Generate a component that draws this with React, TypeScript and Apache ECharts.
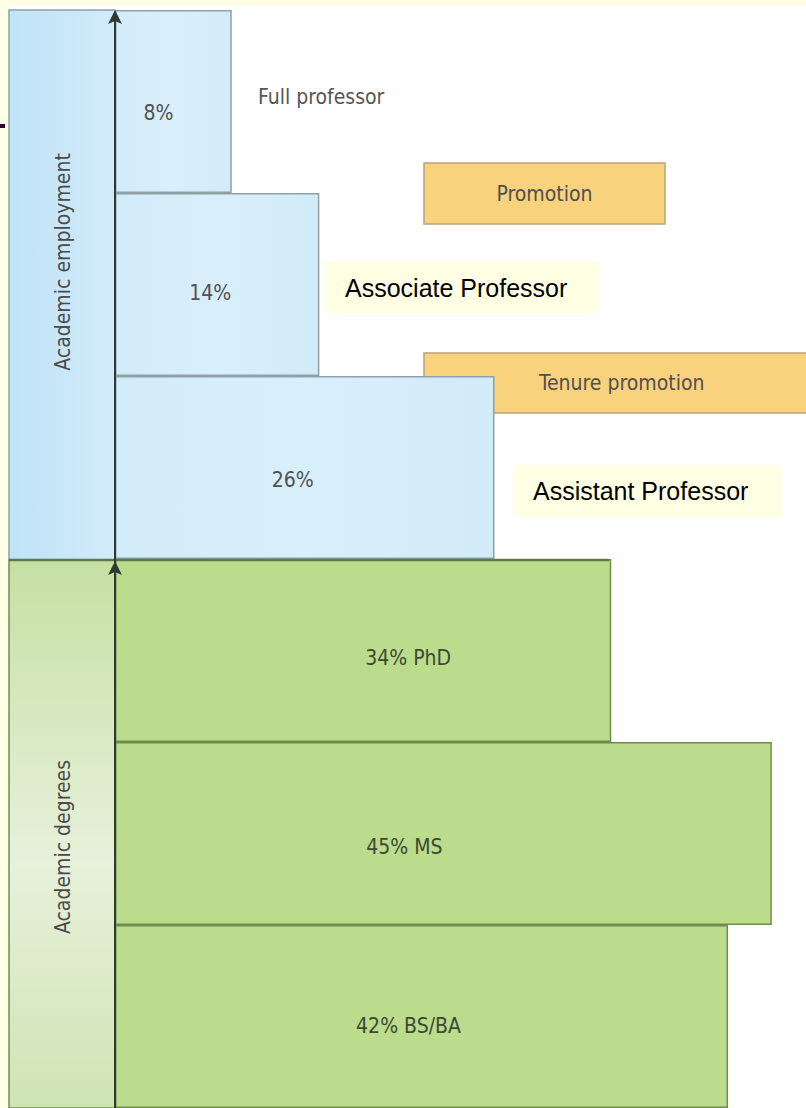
import React, { useEffect, useRef } from "react";
import * as echarts from "echarts";

// ---- data ----
const categories = [
  "Full professor",
  "Associate Professor",
  "Assistant Professor",
  "PhD",
  "MS",
  "BS/BA",
];
const shares = [8, 14, 26, 34, 45, 42];
const groups = ["employment", "employment", "employment", "degree", "degree", "degree"];
const groupTitles = ["Academic employment", "Academic degrees"];
const stepLabels = ["Promotion", "Tenure promotion"];
const rankCallouts = ["Full professor", "Associate Professor", "Assistant Professor"];

// ---- layout / style ----
const NARROW = '"Liberation Sans Narrow", "Arial Narrow", "DejaVu Sans Condensed", sans-serif';
const ARIAL = '"Liberation Sans", Arial, Helvetica, sans-serif';
const NARROW_SIZE = 21;
const labelNudge: [number, number][] = [
  [-15, 11],
  [-7, 8],
  [-12, 12],
  [45, 7],
  [-39, 13],
  [-13, 9],
];

const blueFill = new echarts.graphic.LinearGradient(0, 0, 1, 0, [
  { offset: 0, color: "#D3ECF9" },
  { offset: 0.5, color: "#D9EFFB" },
  { offset: 1, color: "#D2EBF9" },
]);

export default function App() {
  const ref = useRef<HTMLDivElement>(null);

  useEffect(() => {
    if (!ref.current) return;
    const chart = echarts.init(ref.current, undefined, { renderer: "svg" });

    const data = shares.map((v, i) => {
      const emp = groups[i] === "employment";
      return {
        value: v,
        itemStyle: emp
          ? { color: blueFill, borderColor: "#8EA1A8", borderWidth: 1.5 }
          : { color: "#BCDC8D", borderColor: "#6F8D4F", borderWidth: 1.5 },
        label: {
          offset: labelNudge[i],
          color: emp ? "#505050" : "#3B4A32",
        },
      };
    });

    const boxText = (
      x: number,
      y: number,
      w: number,
      h: number,
      text: string,
      fill: string,
      stroke: string | null,
      font: string,
      size: number,
      color: string,
      align: "center" | "left",
      padX: number
    ) => ({
      type: "group",
      z: 20,
      children: [
        {
          type: "rect",
          shape: { x, y, width: w, height: h },
          style: stroke ? { fill, stroke, lineWidth: 1.5 } : { fill },
        },
        {
          type: "text",
          x: align === "center" ? x + w / 2 : x + padX,
          y: y + h / 2,
          style: {
            text,
            fill: color,
            font: `${size}px ${font}`,
            align,
            verticalAlign: "middle",
          },
        },
      ],
    });

    const option: any = {
      animation: false,
      backgroundColor: "#FFFFE6",
      grid: { left: 115, right: 5, top: 10, bottom: 0, containLabel: false },
      xAxis: { type: "value", min: 0, max: 47, show: false },
      yAxis: {
        type: "category",
        data: categories,
        inverse: true,
        axisLine: { show: false },
        axisTick: { show: false },
        axisLabel: { show: false },
        splitLine: { show: false },
      },
      series: [
        {
          type: "bar",
          barWidth: "100%",
          barCategoryGap: "0%",
          data,
          z: 2,
          label: {
            show: true,
            position: "inside",
            fontFamily: NARROW,
            fontSize: NARROW_SIZE,
            formatter: (p: any) =>
              groups[p.dataIndex] === "degree"
                ? `${p.value}% ${categories[p.dataIndex]}`
                : `${p.value}%`,
          },
        },
      ],
      graphic: [
        // white canvas
        {
          type: "rect",
          z: -5,
          shape: { x: 8, y: 5, width: 798, height: 1103 },
          style: { fill: "#FFFFFF" },
        },
        // small dark dash on the far left
        {
          type: "rect",
          z: -4,
          shape: { x: 0, y: 124, width: 5, height: 4 },
          style: { fill: "#2D0030" },
        },
        // group label columns
        {
          type: "rect",
          z: -3,
          shape: { x: 9, y: 10, width: 106, height: 550 },
          style: {
            fill: new echarts.graphic.LinearGradient(0, 0, 1, 0, [
              { offset: 0, color: "#BFE3F7" },
              { offset: 1, color: "#D2EBF9" },
            ]),
            stroke: "#8EA1A8",
            lineWidth: 1.5,
          },
        },
        {
          type: "rect",
          z: -3,
          shape: { x: 9, y: 560, width: 106, height: 548 },
          style: {
            fill: new echarts.graphic.LinearGradient(0, 0, 0, 1, [
              { offset: 0, color: "#C6E0A3" },
              { offset: 0.55, color: "#E7F1DB" },
              { offset: 1, color: "#CFE4B3" },
            ]),
            stroke: "#6F8D4F",
            lineWidth: 1.5,
          },
        },
        {
          type: "text",
          z: 5,
          x: 63,
          y: 262,
          rotation: Math.PI / 2,
          style: {
            text: groupTitles[0],
            fill: "#4A4A4A",
            font: `${NARROW_SIZE}px ${NARROW}`,
            align: "center",
            verticalAlign: "middle",
          },
        },
        {
          type: "text",
          z: 5,
          x: 63,
          y: 847,
          rotation: Math.PI / 2,
          style: {
            text: groupTitles[1],
            fill: "#4A4A4A",
            font: `${NARROW_SIZE}px ${NARROW}`,
            align: "center",
            verticalAlign: "middle",
          },
        },
        // boundary between employment and degrees
        {
          type: "line",
          z: 12,
          shape: { x1: 9, y1: 560, x2: 609, y2: 560 },
          style: { stroke: "#5E7A47", lineWidth: 2.5 },
        },
        // vertical axis with arrows
        {
          type: "line",
          z: 14,
          shape: { x1: 115, y1: 14, x2: 115, y2: 1108 },
          style: { stroke: "#2F3A33", lineWidth: 2 },
        },
        {
          type: "polygon",
          z: 15,
          shape: { points: [[115, 10], [108, 24], [115, 21], [122, 24]] },
          style: { fill: "#2F3A33" },
        },
        {
          type: "polygon",
          z: 15,
          shape: { points: [[115, 561], [108, 575], [115, 572], [122, 575]] },
          style: { fill: "#2F3A33" },
        },
        // callouts
        {
          type: "text",
          z: 20,
          x: 258,
          y: 97,
          style: {
            text: rankCallouts[0],
            fill: "#555555",
            font: `${NARROW_SIZE}px ${NARROW}`,
            align: "left",
            verticalAlign: "middle",
          },
        },
        boxText(424, 163, 241, 61, stepLabels[0], "#F8D27D", "#B9A47C", NARROW, NARROW_SIZE, "#4F4F4F", "center", 0),
        boxText(325, 262, 274, 51, rankCallouts[1], "#FFFFE3", null, ARIAL, 25, "#000000", "left", 20),
        boxText(424, 353, 392, 60, stepLabels[1], "#F8D27D", "#B9A47C", NARROW, NARROW_SIZE, "#4F4F4F", "left", 115),
        boxText(514, 465, 268, 52, rankCallouts[2], "#FFFFE3", null, ARIAL, 25, "#000000", "left", 19),
      ],
    };

    chart.setOption(option);
    return () => chart.dispose();
  }, []);

  return (
    <div
      ref={ref}
      style={{ position: "absolute", left: 0, top: 0, width: 806, height: 1108 }}
    />
  );
}
